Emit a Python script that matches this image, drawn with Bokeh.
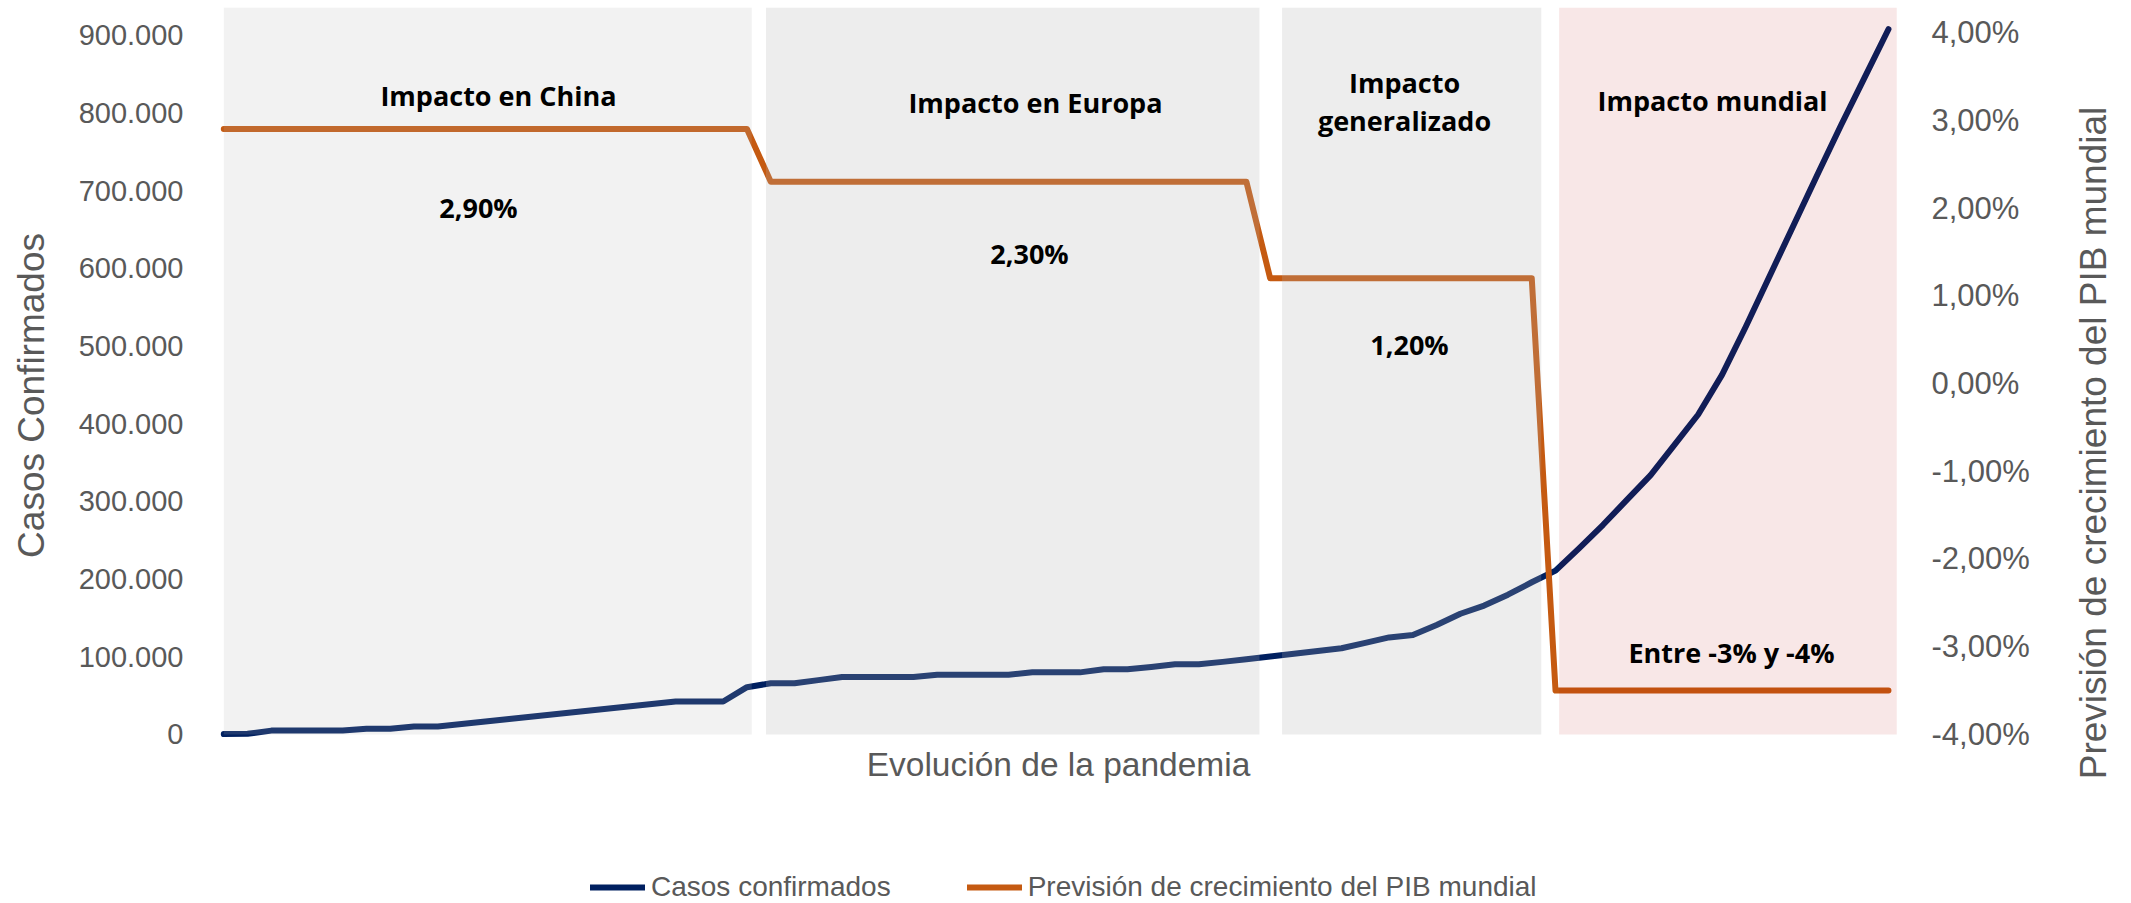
import math
from bokeh.plotting import figure
from bokeh.models import (Range1d, LinearAxis, FixedTicker, BoxAnnotation, Label,
                          Legend, LegendItem)
from bokeh.embed import file_html
from bokeh.resources import INLINE

# ---------------- data ----------------
days = list(range(71))  # evolution of the pandemic, one point per day

casos = [500, 900, 5000, 5000, 5000, 5000, 7300, 7300, 10300, 10300,
         13500, 16700, 20000, 23200, 26400, 29600, 32800, 36000, 39300, 42500,
         42500, 42500, 60900, 66000, 66000, 70000, 74000, 74000, 74000, 74000,
         77000, 77000, 77000, 77000, 80000, 80000, 80000, 84000, 84000, 87000,
         90500, 90500, 93500, 97000, 100500, 104000, 107500, 111000, 118000, 125000,
         128000, 141000, 155500, 166000, 180000, 196000, 211000, 240000, 270000, 302000,
         334000, 373000, 412000, 463000, 525000, 590000, 655000, 720000, 784000, 846000,
         908000]

pib = [2.9, 2.9, 2.9, 2.9, 2.9, 2.9, 2.9, 2.9, 2.9, 2.9,
       2.9, 2.9, 2.9, 2.9, 2.9, 2.9, 2.9, 2.9, 2.9, 2.9,
       2.9, 2.9, 2.9, 2.3, 2.3, 2.3, 2.3, 2.3, 2.3, 2.3,
       2.3, 2.3, 2.3, 2.3, 2.3, 2.3, 2.3, 2.3, 2.3, 2.3,
       2.3, 2.3, 2.3, 2.3, 1.2, 1.2, 1.2, 1.2, 1.2, 1.2,
       1.2, 1.2, 1.2, 1.2, 1.2, 1.2, -3.5, -3.5, -3.5, -3.5,
       -3.5, -3.5, -3.5, -3.5, -3.5, -3.5, -3.5, -3.5, -3.5, -3.5,
       -3.5]

left_ticks = [0, 100000, 200000, 300000, 400000, 500000, 600000, 700000, 800000, 900000]
left_tick_labels = ["0", "100.000", "200.000", "300.000", "400.000", "500.000",
                    "600.000", "700.000", "800.000", "900.000"]
right_ticks = [-4, -3, -2, -1, 0, 1, 2, 3, 4]
right_tick_labels = ["-4,00%", "-3,00%", "-2,00%", "-1,00%", "0,00%",
                     "1,00%", "2,00%", "3,00%", "4,00%"]

phase_start = [0.0, 22.8, 44.5, 56.15]
phase_end = [22.2, 43.55, 55.4, 70.35]
phase_titles = [["Impacto en China"], ["Impacto en Europa"],
                ["Impacto", "generalizado"], ["Impacto mundial"]]
phase_pib_labels = ["2,90%", "2,30%", "1,20%", "Entre -3% y -4%"]

series_names = ["Casos confirmados", "Previsión de crecimiento del PIB mundial"]
x_title = "Evolución de la pandemia"
y_left_title = "Casos Confirmados"
y_right_title = "Previsión de crecimiento del PIB mundial"

# ---------------- styles / positions ----------------
phase_fill = ["#B3B3B3", "#B3B3B3", "#B3B3B3", "#B50000"]
phase_alpha = [0.173, 0.237, 0.237, 0.094]
title_pos = [[(11.55, 822700)], [(34.13, 813700)],
             [(49.65, 839500), (49.65, 790500)], [(62.6, 816300)]]
pib_label_pos = [(10.71, 678500), (33.88, 619300), (49.86, 502100), (63.4, 105600)]
x_title_pos = (35.1, -38600)
left_title_pos = (-8.07, 436500)
right_title_pos = (78.61, -0.678)

GREY = "#595959"
FONT = "Liberation Sans"
BOLD_FONT = "Open Sans"

# The frame covers the whole canvas; the axes draw their tick labels back
# inside it (negative standoff) so that every title can sit in the frame.
p = figure(width=2131, height=903, output_backend="svg", toolbar_location=None,
           x_range=Range1d(-9.39, 80.22), y_range=Range1d(-217590, 936000),
           x_axis_location=None,
           min_border_left=0, min_border_right=0,
           min_border_top=7, min_border_bottom=0)
p.extra_y_ranges = {"pib": Range1d(-5.926, 4.285)}
p.outline_line_color = None
p.xgrid.visible = False
p.ygrid.visible = False

lax = p.left[0]
lax.ticker = FixedTicker(ticks=left_ticks, minor_ticks=[])
lax.major_label_overrides = {t: s for t, s in zip(left_ticks, left_tick_labels)}
lax.axis_line_color = None
lax.major_tick_line_color = None
lax.minor_tick_line_color = None
lax.major_tick_out = 0
lax.major_tick_in = 0
lax.major_label_standoff = -183
lax.major_label_text_font = FONT
lax.major_label_text_font_size = "29px"
lax.major_label_text_color = GREY

rax = LinearAxis(y_range_name="pib",
                 ticker=FixedTicker(ticks=right_ticks, minor_ticks=[]),
                 major_label_overrides={t: s for t, s in zip(right_ticks, right_tick_labels)})
rax.axis_line_color = None
rax.major_tick_line_color = None
rax.minor_tick_line_color = None
rax.major_tick_out = 0
rax.major_tick_in = 0
rax.major_label_standoff = -200
rax.major_label_text_font = FONT
rax.major_label_text_font_size = "31px"
rax.major_label_text_color = GREY
p.add_layout(rax, "right")

blue = p.line(days, casos, line_color="#002060", line_width=6,
              line_join="round", line_cap="round")
orange = p.line(days, pib, y_range_name="pib", line_color="#C55A11", line_width=6,
                line_join="round", line_cap="round")

# translucent phase panels drawn over the lines
for s, e, c, a in zip(phase_start, phase_end, phase_fill, phase_alpha):
    p.add_layout(BoxAnnotation(left=s, right=e, bottom=0, fill_color=c, fill_alpha=a,
                               line_color=None))

for lines, poss in zip(phase_titles, title_pos):
    for txt, (x, y) in zip(lines, poss):
        p.add_layout(Label(x=x, y=y, text=txt, text_align="center",
                           text_baseline="middle", text_font=BOLD_FONT,
                           text_font_style="bold", text_font_size="27px",
                           text_color="black"))
for txt, (x, y) in zip(phase_pib_labels, pib_label_pos):
    p.add_layout(Label(x=x, y=y, text=txt, text_align="center",
                       text_baseline="middle", text_font=BOLD_FONT,
                       text_font_style="bold", text_font_size="27px",
                       text_color="black"))

# axis titles
p.add_layout(Label(x=x_title_pos[0], y=x_title_pos[1], text=x_title,
                   text_align="center", text_baseline="middle", text_font=FONT,
                   text_font_size="33.5px", text_color=GREY))
p.add_layout(Label(x=left_title_pos[0], y=left_title_pos[1], text=y_left_title,
                   angle=math.pi / 2, text_align="center", text_baseline="middle",
                   text_font=FONT, text_font_size="37px", text_color=GREY))
p.add_layout(Label(x=right_title_pos[0], y=right_title_pos[1], y_range_name="pib",
                   text=y_right_title, angle=math.pi / 2, text_align="center",
                   text_baseline="middle", text_font=FONT, text_font_size="37px",
                   text_color=GREY))

legend = Legend(items=[LegendItem(label=series_names[0], renderers=[blue]),
                       LegendItem(label=series_names[1], renderers=[orange])],
                orientation="horizontal", location=(590, 0),
                padding=0, margin=0, spacing=76, glyph_width=55, glyph_height=30,
                label_height=30, label_standoff=6, label_text_font=FONT,
                label_text_font_size="28px", label_text_color=GREY,
                border_line_color=None, background_fill_alpha=0)
p.add_layout(legend)

open("out.html", "w").write(file_html(p, INLINE))
